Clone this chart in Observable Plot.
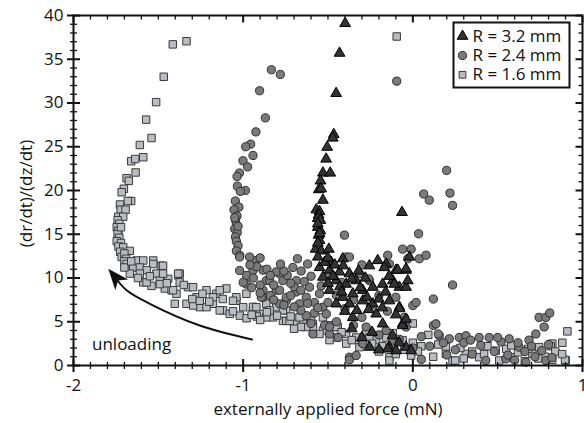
<!DOCTYPE html>
<html><head><meta charset="utf-8">
<script src="https://cdn.jsdelivr.net/npm/d3@7"></script>
<script src="https://cdn.jsdelivr.net/npm/@observablehq/plot@0.6"></script>
<style>body{margin:0;background:#fff;} svg{display:block}</style>
</head><body><div id="chart"></div>
<script>
const xTicks = [-2, -1, 0, 1];
const yTicks = [0, 5, 10, 15, 20, 25, 30, 35, 40];
const xMinorTicks = [-1.9,-1.8,-1.7,-1.6,-1.5,-1.4,-1.3,-1.2,-1.1,-0.9,-0.8,-0.7,-0.6,-0.5,-0.4,-0.3,-0.2,-0.1,0.1,0.2,0.3,0.4,0.5,0.6,0.7,0.8,0.9];
const yMinorTicks = [1,2,3,4,6,7,8,9,11,12,13,14,16,17,18,19,21,22,23,24,26,27,28,29,31,32,33,34,36,37,38,39];
const seriesNames = ["R = 3.2 mm", "R = 2.4 mm", "R = 1.6 mm"];
const xLabel = "externally applied force (mN)";
const yLabel = "(dr/dt)/(dz/dt)";
const annotation = "unloading";
const annotationAt = [[-1.891, 2.4]];
const arrowPath = [[-0.948,2.97],[-1.256,4.57],[-1.55,7.05],[-1.687,8.6],[-1.76,10.2]];
const arrowTip = [[-1.795,11.05]];

// R = 1.6 mm (squares)
const squares = [
[-1.334,37.06],[-1.415,36.7],[-1.468,33.0],[-1.513,30.1],[-1.572,28.1],[-1.54,26.0],[-1.609,25.2],[-1.589,23.8],[-1.66,23.35],[-1.636,23.6],[-1.634,22.06],[-1.687,21.4],[-1.674,21.1],[-1.703,20.2],[-1.716,19.8],[-1.66,18.8],[-1.68,18.8],[-1.726,18.4],[-1.722,17.8],[-1.693,17.8],[-1.736,17.0],[-1.707,17.0],
[-1.74,16.6],[-1.73,16.2],[-1.745,15.8],[-1.735,15.4],[-1.74,15.0],[-1.73,14.6],[-1.745,14.2],[-1.72,14.0],[-1.735,13.6],[-1.707,13.5],[-1.725,13.0],[-1.668,13.1],[-1.716,12.4],[-1.70,12.8],[-1.69,12.2],[-1.70,11.9],
[-1.687,11.6],[-1.648,11.2],[-1.628,12.0],[-1.589,12.0],[-1.53,12.0],[-1.481,11.4],[-1.609,11.2],[-1.53,11.6],[-1.472,11.4],[-1.569,10.9],[-1.511,10.5],[-1.668,10.5],[-1.609,10.5],[-1.589,9.5],[-1.54,9.1],[-1.491,9.7],[-1.442,9.9],[-1.462,8.8],[-1.422,8.6],[-1.383,10.3],[-1.374,9.5],[-1.393,8.2],[-1.403,7.05],[-1.334,7.05],[-1.325,8.95],[-1.275,7.8],[-1.216,8.6],[-1.158,8.2],[-1.099,8.8],[-1.256,6.67],[-1.178,7.05],[-1.119,6.3],[-1.04,7.4],[-1.0,6.67],[-0.981,8.2],[-1.374,10.5],[-1.413,8.6],[-1.569,9.5],[-1.491,9.3],[-1.472,10.5],[-1.383,10.5],[-1.295,8.95],[-1.138,8.6],[-1.04,7.8],[-0.942,6.3],[-0.883,5.9],[-0.825,5.5],[-0.766,5.1],[-1.079,5.9],[-1.02,5.7],[-1.138,6.3],[-1.216,6.67],[-1.295,6.86],[-0.864,7.05],[-0.805,6.67],[-1.256,7.4],[-1.178,7.8],[-0.942,6.7],[-0.864,5.5],[-0.746,5.1],[-0.687,4.76],[-1.06,7.4],[-0.922,6.67],[-0.844,6.3],[-0.746,6.3],[-0.726,5.1],[-0.648,4.76],[-0.589,4.76],[-0.766,6.3],[-0.668,5.5],[-0.589,4.4],[-0.53,5.5],[-0.442,4.4],[-0.452,3.2],[-0.53,4.0],[-0.452,4.4],[-0.393,3.6],[-0.334,3.2],[-0.275,3.6],[-0.216,2.9],[-0.158,3.2],[-0.118,2.1],[-0.06,2.9],[-0.138,0.95],[-0.393,2.5],[-0.491,2.9],[-0.628,4.4],[-0.315,2.1],[-0.256,3.2],[-0.138,0.57],
[-1.62,10.0],[-1.55,10.2],[-1.45,9.4],[-1.35,9.2],[-1.3,7.6],[-1.24,8.2],[-1.2,7.3],[-1.12,7.6],[-1.06,6.2],[-0.98,5.4],[-0.92,5.6],[-0.86,6.1],[-0.8,5.7],[-0.72,5.6],[-0.66,4.4],[-0.6,5.1],[-0.5,4.6],[-0.42,3.8],[-0.36,2.9],[-0.24,2.5],[-0.18,2.2],[-0.1,1.3],[-1.7,11.2],[-1.66,11.9],[-1.72,15.8],
[0.0,4.8],[-0.118,3.7],[0.091,3.5],[0.195,2.1],[0.234,0.57],[0.313,1.33],[0.391,0.95],[0.489,1.7],[0.587,0.95],[0.705,1.33],[0.744,2.1],[0.822,2.5],[0.881,2.6],[0.901,0.57],[0.911,3.9],[0.813,2.2],[-0.01,1.14],[0.195,1.33],[0.25,0.57],[0.509,0.57],[0.822,0.65],[0.897,0.65],
[0.05,2.2],[0.12,1.0],[0.28,2.0],[0.35,1.6],[0.44,2.2],[0.55,1.9],[0.62,1.5],[0.66,0.5],[0.78,1.0],[0.84,1.6],[0.0,2.6],[-0.05,1.8],[-0.2,1.6],[-0.3,2.7],[-0.55,3.6],[-0.7,4.2],[-0.9,5.2],[-0.95,5.8],
[0.03,1.6],[0.15,2.4],[0.3,0.8],[0.42,1.3],[0.58,2.3],[0.68,1.9],[0.74,0.8],[0.88,1.3],
[-0.095,37.6]
];

// R = 2.4 mm (circles)
const circles = [
[-0.834,33.8],[-0.781,33.26],[-0.903,31.4],[-0.869,28.3],[-0.925,26.7],[-0.956,25.3],[-0.985,25.0],[-0.942,24.0],[-1.001,23.4],[-0.974,22.7],[-1.022,22.0],[-1.036,21.6],[-1.034,20.5],[-0.987,20.0],[-1.017,19.9],[-1.046,18.8],[-1.025,18.1],[-1.054,17.8],[-1.036,17.1],
[-1.045,16.6],[-1.04,16.1],[-1.05,15.6],[-1.035,15.2],[-1.045,14.7],[-1.04,14.2],[-1.03,13.7],[-1.04,13.1],[-1.02,12.6],[-1.05,16.9],[-1.03,15.9],
[-1.021,12.4],[-0.922,12.0],[-1.021,10.86],[-0.942,10.86],[-0.981,9.3],[-0.883,7.8],[-0.864,9.7],[-0.785,10.5],[-0.707,11.2],[-0.746,7.4],[-0.805,8.6],[-0.962,12.4],[-0.883,10.9],[-0.805,10.7],[-0.658,10.8],[-1.0,9.5],[-0.844,9.7],[-0.766,9.7],[-0.687,9.7],[-0.883,8.6],[-0.785,8.6],[-0.687,8.4],[-0.609,8.95],[-0.893,7.8],[-0.746,7.8],[-0.628,7.8],[-0.55,8.2],[-0.785,7.05],[-0.668,7.05],[-0.53,6.67],[-0.628,5.7],[-0.51,5.9],[-0.98,10.3],[-0.92,11.3],[-0.86,11.0],[-0.96,11.5],[-0.9,9.2],[-0.82,9.2],[-0.74,10.3],[-0.7,9.0],[-0.64,9.6],[-0.6,10.2],[-0.95,8.9],[-0.84,8.0],[-0.72,8.0],[-0.66,6.3],[-0.58,7.2],[-0.58,6.0],[-0.7,6.7],[-0.76,10.8],[-0.62,11.6],[-0.68,12.2],
[-0.94,10.0],[-0.9,12.3],[-0.84,10.3],[-0.78,11.6],[-0.72,9.4],[-0.66,8.6],[-0.62,7.1],[-0.56,6.6],[-0.54,9.1],[-0.6,4.8],[-0.52,4.6],[-0.44,3.2],[-0.76,6.9],[-0.82,7.5],[-0.9,8.3],
[-0.403,14.9],[-0.393,12.4],[-0.315,10.5],[-0.256,9.7],[-0.148,12.6],[-0.06,13.3],[-0.491,3.6],[-0.374,0.95],[-0.334,1.14],[-0.295,2.5],[-0.275,4.4],[-0.158,4.0],[-0.118,2.9],[-0.04,4.4],[-0.05,5.5],[-0.589,3.6],[-0.491,4.4],[0.034,15.05],[0.234,18.3],[0.097,18.9],[0.064,19.6],[0.219,19.7],[0.199,22.3],[0.234,9.2],[0.121,7.6],[0.0,6.86],[0.019,7.2],[-0.01,13.3],[-0.03,12.2],[0.038,12.2],[0.078,12.6],[-0.138,11.6],[-0.26,9.9],[-0.374,12.4],[-0.095,32.5],
[-0.45,8.0],[-0.4,6.5],[-0.35,7.5],[-0.3,5.5],[-0.25,6.8],[-0.2,8.0],[-0.15,6.2],[-0.1,7.8],[-0.45,5.0],[-0.35,4.6],[-0.2,3.5],[-0.08,3.0],[-0.5,7.2],[-0.42,9.5],[-0.3,11.5],[-0.5,10.3],
[0.121,4.57],[0.136,4.76],[0.156,3.4],[0.215,3.05],[0.274,3.2],[0.313,3.4],[0.391,3.2],[0.45,3.2],[0.568,3.05],[0.626,2.1],[0.685,2.9],[0.725,3.6],[0.774,4.4],[0.744,5.5],[0.784,5.5],[0.807,6.0],[0.43,0.57],[0.548,0.76],[0.666,0.38],[0.784,0.57],[-0.374,0.65],
[0.05,3.3],[0.1,2.2],[0.18,2.6],[0.25,1.8],[0.3,2.6],[0.35,1.3],[0.4,2.3],[0.48,1.6],[0.52,2.7],[0.56,1.2],[0.6,0.6],[0.62,2.6],[0.66,1.6],[0.7,2.2],[0.72,1.0],[0.76,1.7],[0.8,2.4],[0.82,0.9],[0.5,3.2],[0.34,2.9],[0.2,1.2],[0.0,2.0],[0.05,0.7],[0.15,3.6]
];

// R = 3.2 mm (triangles)
const triangles = [
[-0.399,39.1],[-0.432,35.7],[-0.452,31.1],[-0.466,26.4],[-0.472,26.0],[-0.505,24.95],[-0.511,23.6],[-0.53,22.0],[-0.487,22.0],[-0.544,21.1],[-0.554,20.1],[-0.54,20.2],[-0.53,18.9],[-0.569,17.8],[-0.55,17.6],[-0.556,16.9],[-0.064,17.5],
[-0.555,17.2],[-0.56,16.8],[-0.545,16.6],[-0.56,15.8],[-0.545,15.4],[-0.555,14.9],[-0.55,14.3],[-0.573,13.3],[-0.54,13.1],[-0.495,13.3],[-0.56,12.4],[-0.481,11.8],[-0.413,12.2],[-0.56,14.0],[-0.55,15.1],[-0.56,16.2],
[-0.55,11.2],[-0.491,10.9],[-0.432,10.7],[-0.374,10.5],[-0.53,10.1],[-0.452,9.7],[-0.393,9.3],[-0.334,9.7],[-0.256,11.4],[-0.207,12.0],[-0.158,11.6],[-0.099,10.9],[-0.04,10.9],[-0.491,8.6],[-0.413,7.8],[-0.354,8.2],[-0.295,8.6],[-0.236,8.95],[-0.178,9.3],[-0.118,9.7],[-0.079,8.95],[-0.452,7.05],[-0.374,7.05],[-0.295,7.4],[-0.236,7.05],[-0.138,7.4],[-0.079,6.67],[-0.216,5.9],[-0.354,5.5],[-0.178,4.76],[-0.06,4.76],[-0.138,2.1],[-0.099,1.7],[-0.256,2.1],[-0.04,2.1],[-0.168,11.2],[-0.089,10.9],[-0.04,11.05],[-0.04,8.95],[-0.01,1.7],[-0.06,4.57],[-0.04,5.3],[-0.02,12.4],[-0.03,9.7],[-0.109,9.3],[-0.079,6.5],[-0.148,1.9],
[-0.52,11.8],[-0.5,12.3],[-0.46,11.5],[-0.43,9.0],[-0.47,10.2],[-0.41,11.4],[-0.36,9.9],[-0.32,10.8],[-0.28,10.0],[-0.31,8.9],[-0.27,7.8],[-0.33,6.3],[-0.4,6.2],[-0.26,6.4],[-0.2,7.6],[-0.16,8.4],[-0.14,10.2],[-0.1,5.8],[-0.18,6.6],[-0.5,9.4],[-0.42,8.4],[-0.36,4.2],[-0.3,3.2],[-0.24,3.8],[-0.12,3.4],[-0.08,2.6],[-0.2,1.8]
];

const FONT = "'Open Sans', sans-serif";
const FS = 17;

// custom tick symbols (length from r)
const tickV = {draw(ctx, size){const h = Math.sqrt(size/Math.PI); ctx.moveTo(0,-h); ctx.lineTo(0,h);}};
const tickDown = {draw(ctx, size){const h = Math.sqrt(size/Math.PI); ctx.moveTo(0,0); ctx.lineTo(0,h);}};
const tickH = {draw(ctx, size){const h = Math.sqrt(size/Math.PI); ctx.moveTo(-h,0); ctx.lineTo(h,0);}};
const tickLeft = {draw(ctx, size){const h = Math.sqrt(size/Math.PI); ctx.moveTo(0,0); ctx.lineTo(-h,0);}};
const arrowHead = {draw(ctx, size){const L = Math.sqrt(size/Math.PI); ctx.moveTo(0,0); ctx.lineTo(-0.4*L, L); ctx.lineTo(0, 0.72*L); ctx.lineTo(0.4*L, L); ctx.closePath();}};

const sqStyle = {symbol: "square", r: 4.2, fill: "#b9bcc2", stroke: "#3a3a3a", strokeWidth: 1};
const ciStyle = {symbol: "circle", r: 4.1, fill: "#7a7a7a", stroke: "#2e2e2e", strokeWidth: 1};
const trStyle = {symbol: "triangle", r: 4.0, fill: "#333333", stroke: "#000", strokeWidth: 1};

const legendRows = [trStyle, ciStyle, {...sqStyle, r: 3.8}];
const legendMarks = [];
seriesNames.forEach((name, i) => {
  legendMarks.push(Plot.dot([name], {frameAnchor: "top-right", dx: -120, dy: 20.7 + i*19.3, ...legendRows[i]}));
  legendMarks.push(Plot.text([name], {frameAnchor: "top-right", dx: -110, dy: 20.7 + i*19.3, text: d => d, textAnchor: "start", lineAnchor: "middle", fontSize: FS, fill: "#111"}));
});

const chart = Plot.plot({
  width: 584, height: 423,
  marginLeft: 73, marginRight: 2, marginTop: 15, marginBottom: 58,
  style: {fontFamily: FONT, background: "#fff", color: "#111"},
  x: {domain: [-2, 1]},
  y: {domain: [0, 40]},
  marks: [
    Plot.dot(squares, {x: d => d[0], y: d => d[1], ...sqStyle}),
    Plot.dot(circles, {x: d => d[0], y: d => d[1], ...ciStyle}),
    Plot.dot(triangles, {x: d => d[0], y: d => d[1], ...trStyle}),
    Plot.line(arrowPath, {x: d => d[0], y: d => d[1], curve: "catmull-rom", stroke: "#111", strokeWidth: 2}),
    Plot.dot(arrowTip, {x: d => d[0], y: d => d[1], symbol: arrowHead, r: 21, rotate: -40, fill: "#111", stroke: "none"}),
    Plot.text(annotationAt, {x: d => d[0], y: d => d[1], text: () => annotation, textAnchor: "start", fontSize: FS, fill: "#111"}),
    Plot.frame({stroke: "#111", strokeWidth: 2}),
    // x ticks bottom & top
    Plot.dot(xMinorTicks, {x: d => d, y: () => 0, symbol: tickV, r: 3.5, stroke: "#111", strokeWidth: 1.3, fill: "none"}),
    Plot.dot(xTicks, {x: d => d, y: () => 0, symbol: tickV, r: 6.5, stroke: "#111", strokeWidth: 2, fill: "none"}),
    Plot.dot(xMinorTicks, {x: d => d, y: () => 40, symbol: tickDown, r: 4, stroke: "#111", strokeWidth: 1.3, fill: "none"}),
    Plot.dot(xTicks, {x: d => d, y: () => 40, symbol: tickDown, r: 7, stroke: "#111", strokeWidth: 2, fill: "none"}),
    // y ticks left & right
    Plot.dot(yMinorTicks, {x: () => -2, y: d => d, symbol: tickH, r: 3.5, stroke: "#111", strokeWidth: 1.3, fill: "none"}),
    Plot.dot(yTicks, {x: () => -2, y: d => d, symbol: tickH, r: 6.5, stroke: "#111", strokeWidth: 2, fill: "none"}),
    Plot.dot(yMinorTicks, {x: () => 1, y: d => d, symbol: tickLeft, r: 4, stroke: "#111", strokeWidth: 1.3, fill: "none"}),
    Plot.dot(yTicks, {x: () => 1, y: d => d, symbol: tickLeft, r: 7, stroke: "#111", strokeWidth: 2, fill: "none"}),
    Plot.axisX({ticks: xTicks, tickSize: 0, tickPadding: 13, tickFormat: d => String(d), fontSize: FS, label: null, fill: "#111"}),
    Plot.axisY({ticks: yTicks, tickSize: 0, tickPadding: 10, tickFormat: d => String(d), fontSize: FS, label: null, fill: "#111"}),
    Plot.text([xLabel], {frameAnchor: "bottom", dy: 44, lineAnchor: "middle", text: d => d, fontSize: FS, fill: "#111"}),
    Plot.text([yLabel], {frameAnchor: "left", dx: -47, dy: 3, rotate: -90, textAnchor: "middle", lineAnchor: "middle", text: d => d, fontSize: FS, fill: "#111"}),
    // legend
    Plot.frame({insetLeft: 380, insetTop: 7, insetRight: 13, insetBottom: 278, fill: "#fff", stroke: "#111", strokeWidth: 2}),
    ...legendMarks
  ]
});
document.getElementById("chart").appendChild(chart);
</script>
</body></html>
